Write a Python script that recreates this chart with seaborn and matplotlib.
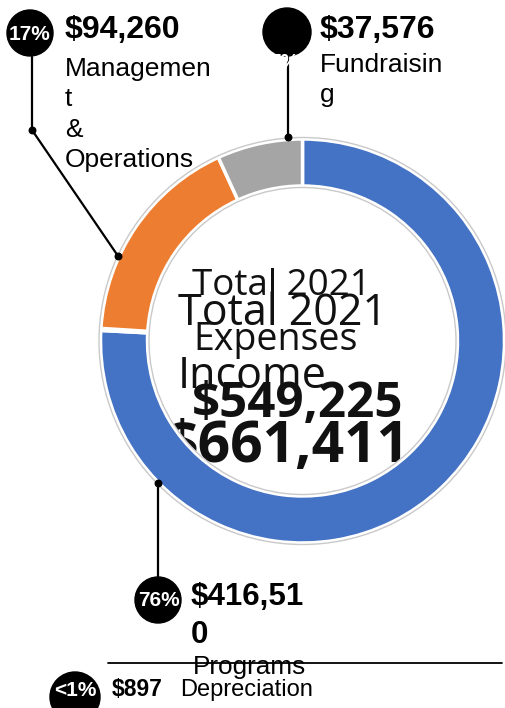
import numpy as np
import seaborn as sns
import matplotlib.pyplot as plt
from matplotlib.patches import Circle

# data
categories = ["Programs", "Depreciation", "Management\n& Operations", "Fundraising"]
amounts = [416510, 897, 94260, 37576]
pct_labels = ["76%", "<1%", "17%", "7%"]
amount_labels = ["$416,510", "$897", "$94,260", "$37,576"]
colors = ["#4472C4", "#FFC000", "#ED7D31", "#A5A5A5"]
title_lines = ["Total 2021", "Total 2021", "Expenses", "Income", "$549,225", "$661,411"]

sns.set_theme(style="white")
plt.rcParams['font.family'] = ['Liberation Sans', 'DejaVu Sans']
plt.rcParams['text.color'] = 'black'

W, H = 506, 708
fig = plt.figure(figsize=(W / 100, H / 100), dpi=100)
ax = fig.add_axes([0, 0, 1, 1])

cx, cy = 302.5, 341
r_out, r_in = 202, 155

# donut (y axis is inverted so startangle 270 + counterclock = clockwise from top)
ax.pie(amounts, colors=colors, startangle=270, counterclock=True,
       center=(cx, cy), radius=r_out, frame=True,
       wedgeprops=dict(width=r_out - r_in, edgecolor='white', linewidth=2.5, zorder=3))
ax.set_xlim(0, W)
ax.set_ylim(H, 0)
ax.set_aspect('equal')
ax.axis('off')
ax.add_patch(Circle((cx, cy), r_out + 1.5, fill=False, ec='#c9c9c9', lw=1, zorder=4))
ax.add_patch(Circle((cx, cy), r_in - 1.5, fill=False, ec='#c9c9c9', lw=1, zorder=4))

# centre texts, clipped to the hole
clip = Circle((cx, cy), r_in - 2, transform=ax.transData)
center_specs = [  # x, baseline, size, weight
    (192, 295, 26.5, 'normal'),
    (178, 325, 31, 'normal'),
    (193, 350, 27, 'normal'),
    (178, 388, 31, 'normal'),
    (192, 417, 35.5, 'bold'),
    (166, 462, 41, 'bold'),
]
for txt, (x, y, s, w) in zip(title_lines, center_specs):
    t = ax.text(x, y, txt, fontsize=s, fontweight=w, family='Open Sans',
                color='#111111', ha='left', va='baseline', zorder=2)
    t.set_clip_path(clip)

lw = 1.6
# leader lines
ax.plot([32, 32, 118], [57, 130, 256], color='black', lw=lw, zorder=5)
ax.plot([288, 288], [57, 137], color='black', lw=lw, zorder=5)
ax.plot([158, 158], [483, 577], color='black', lw=lw, zorder=5)
ax.scatter([32, 118, 288, 158], [130, 256, 137, 483], s=22, color='black', zorder=6)

# percentage bubbles
bubbles = [(158, 600, 23), (75, 697, 25), (30, 33, 23), (287, 32, 24)]
for (bx, by, br), p in zip(bubbles, pct_labels):
    ax.add_patch(Circle((bx, by), br, color='black', zorder=5))
bubble_txt = [(159, 601), (75, 690), (30, 34), (284, 62)]
for (tx, ty), p in zip(bubble_txt, pct_labels):
    ax.text(tx, ty, p, color='white', fontsize=15, fontweight='bold',
            ha='center', va='center', zorder=5.5)

# amount + category labels
ax.text(65, 38, amount_labels[2], fontsize=23, fontweight='bold', va='baseline', zorder=7)
for i, line in enumerate(["Managemen", "t", "&", "Operations"]):
    ax.text(65, 76 + i * 30.3, line, fontsize=19, va='baseline', zorder=7)

ax.text(320, 38, amount_labels[3], fontsize=23, fontweight='bold', va='baseline', zorder=7)
for i, line in enumerate(["Fundraisin", "g"]):
    ax.text(320, 72 + i * 30, line, fontsize=19, va='baseline', zorder=7)

ax.text(191, 605, amount_labels[0][:-1], fontsize=22.5, fontweight='bold', va='baseline', zorder=7)
ax.text(191, 643, amount_labels[0][-1], fontsize=22.5, fontweight='bold', va='baseline', zorder=7)
ax.plot([108, 502], [663, 663], color='black', lw=1.3, zorder=6)
ax.text(193, 674, categories[0], fontsize=18.8, va='baseline', zorder=7)

ax.text(112, 696, amount_labels[1], fontsize=16.5, fontweight='bold', va='baseline', zorder=7)
ax.text(180, 696, categories[1], fontsize=17, va='baseline', zorder=7)

fig.savefig("out.png", dpi=100)
